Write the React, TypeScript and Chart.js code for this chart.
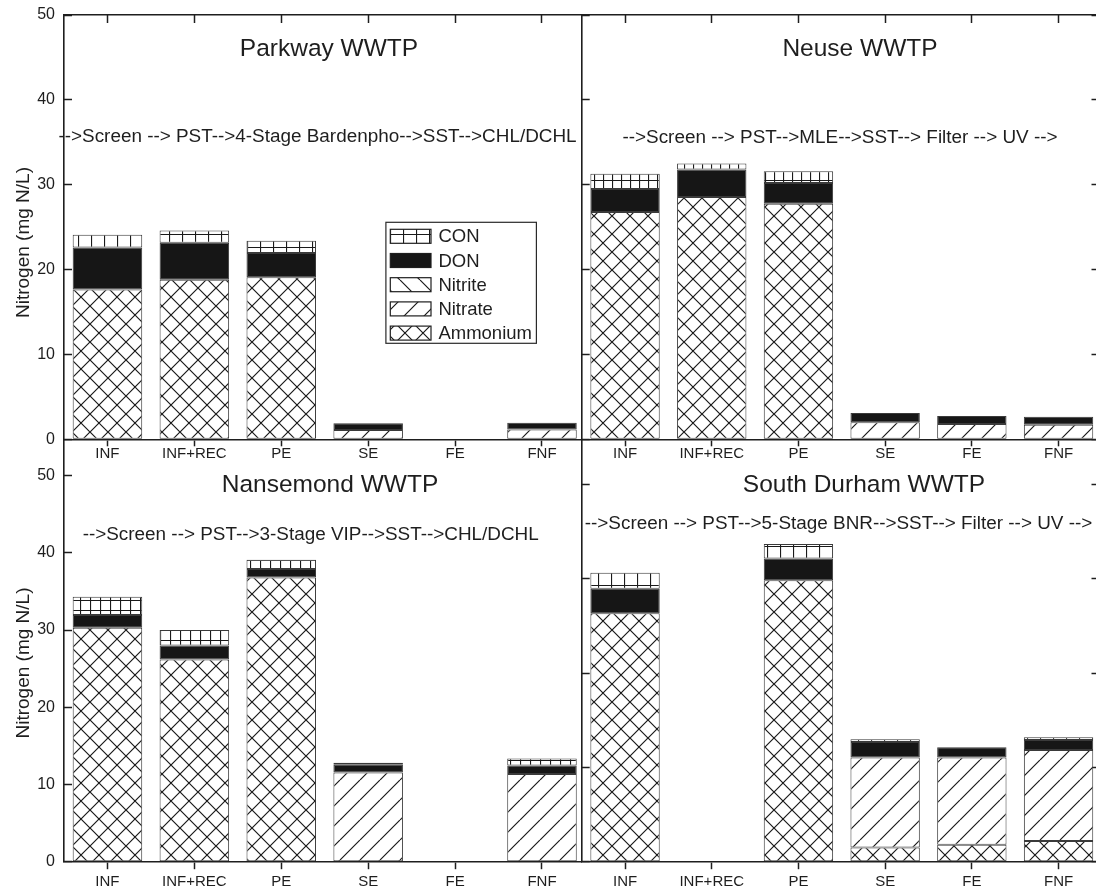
import React, { useEffect, useRef } from "react";
import { Chart, registerables } from "chart.js";

Chart.register(...registerables);

// ---------------- data ----------------
const categories = ["INF", "INF+REC", "PE", "SE", "FE", "FNF"];
const categoryPositions = [1, 2, 3, 4, 5, 6];
const legendOrder = ["CON", "DON", "Nitrite", "Nitrate", "Ammonium"];

const yTicks50 = [0, 10, 20, 30, 40, 50];
const yTicks40 = [0, 10, 20, 30, 40];

// Parkway WWTP
const parkwayAmmonium = [17.65, 18.8, 19.1, 0, 0, 0];
const parkwayNitrate = [0, 0, 0, 1.1, 0, 1.15];
const parkwayNitrite = [0, 0, 0, 0, 0, 0];
const parkwayDON = [4.95, 4.35, 2.85, 0.8, 0, 0.8];
const parkwayCON = [1.5, 1.45, 1.45, 0, 0, 0];

// Neuse WWTP
const neuseAmmonium = [26.8, 28.55, 27.75, 0, 0, 0];
const neuseNitrate = [0, 0, 0, 2.0, 1.8, 1.7];
const neuseNitrite = [0, 0, 0, 0, 0, 0];
const neuseDON = [2.7, 3.25, 2.45, 1.1, 0.95, 0.95];
const neuseCON = [1.8, 0.7, 1.4, 0, 0, 0];

// Nansemond WWTP
const nansemondAmmonium = [30.3, 26.2, 36.8, 0, 0, 0];
const nansemondNitrate = [0, 0, 0, 11.55, 0, 11.35];
const nansemondNitrite = [0, 0, 0, 0, 0, 0];
const nansemondDON = [1.65, 1.8, 1.1, 1.0, 0, 1.1];
const nansemondCON = [2.35, 2.0, 1.2, 0.25, 0, 0.9];

// South Durham WWTP
const durhamAmmonium = [26.35, 0, 29.85, 1.5, 1.8, 2.2];
const durhamNitrate = [0, 0, 0, 9.55, 9.25, 9.65];
const durhamNitrite = [0, 0, 0, 0, 0, 0];
const durhamDON = [2.6, 0, 2.3, 1.65, 1.1, 1.05];
const durhamCON = [1.7, 0, 1.55, 0.3, 0, 0.3];

// ---------------- style ----------------
const W = 1096;
const H = 891;
const INK = "#1e1e1e";
const FONT = "'Liberation Sans', Arial, Helvetica, sans-serif";
const X_AXIS_H = 29;

function makePattern(kind: string, size: number): any {
  const c = document.createElement("canvas");
  c.width = size;
  c.height = size;
  const g = c.getContext("2d") as CanvasRenderingContext2D;
  g.fillStyle = "#ffffff";
  g.fillRect(0, 0, size, size);
  g.strokeStyle = "#1a1a1a";
  g.lineWidth = 1.2;
  g.beginPath();
  if (kind === "slash" || kind === "cross") {
    for (let k = -1; k <= 1; k++) {
      g.moveTo(k * size, size);
      g.lineTo(k * size + size, 0);
    }
  }
  if (kind === "back" || kind === "cross") {
    for (let k = -1; k <= 1; k++) {
      g.moveTo(k * size, 0);
      g.lineTo(k * size + size, size);
    }
  }
  if (kind === "grid") {
    g.moveTo(0.5, 0);
    g.lineTo(0.5, size);
    g.moveTo(0, 0.5);
    g.lineTo(size, 0.5);
  }
  g.stroke();
  return g.createPattern(c, "repeat");
}

function makeFills(conSize: number) {
  return {
    Ammonium: makePattern("cross", 18),
    Nitrate: makePattern("slash", 20),
    Nitrite: makePattern("back", 20),
    DON: "#161616",
    CON: makePattern("grid", conSize),
  } as Record<string, any>;
}

type Spec = {
  title: string;
  titleX: number;
  titleY: number;
  subtitle: string;
  subX: number;
  subY: number;
  yTitle: null | { x: number; y: number };
  area: { left: number; top: number; right: number; bottom: number };
  xMax: number;
  yMax: number;
  yTicks: number[];
  showYLabels: boolean;
  topAxis: boolean;
  rightAxis: boolean;
  xTickLen: number;
  xTickPad: number;
  conSize: number;
  legend: boolean;
  series: Record<string, number[]>;
};

const specs: Spec[] = [
  {
    title: "Parkway WWTP",
    titleX: 329,
    titleY: 55.5,
    subtitle: "-->Screen --> PST-->4-Stage Bardenpho-->SST-->CHL/DCHL",
    subX: 317.5,
    subY: 142,
    yTitle: { x: 28.5, y: 242.5 },
    area: { left: 64, top: 15, right: 581.7, bottom: 439.3 },
    xMax: 6.457,
    yMax: 50,
    yTicks: yTicks50,
    showYLabels: true,
    topAxis: true,
    rightAxis: false,
    xTickLen: 7,
    xTickPad: -1,
    conSize: 13,
    legend: true,
    series: {
      Ammonium: parkwayAmmonium,
      Nitrate: parkwayNitrate,
      Nitrite: parkwayNitrite,
      DON: parkwayDON,
      CON: parkwayCON,
    },
  },
  {
    title: "Neuse WWTP",
    titleX: 860,
    titleY: 56,
    subtitle: "-->Screen --> PST-->MLE-->SST--> Filter --> UV -->",
    subX: 840,
    subY: 143,
    yTitle: null,
    area: { left: 581.7, top: 15, right: 1096, bottom: 439.3 },
    xMax: 6.432,
    yMax: 50,
    yTicks: yTicks50,
    showYLabels: false,
    topAxis: true,
    rightAxis: true,
    xTickLen: 7,
    xTickPad: -1,
    conSize: 9,
    legend: false,
    series: {
      Ammonium: neuseAmmonium,
      Nitrate: neuseNitrate,
      Nitrite: neuseNitrite,
      DON: neuseDON,
      CON: neuseCON,
    },
  },
  {
    title: "Nansemond WWTP",
    titleX: 330,
    titleY: 492,
    subtitle: "-->Screen --> PST-->3-Stage VIP-->SST-->CHL/DCHL",
    subX: 310.7,
    subY: 540,
    yTitle: { x: 28.5, y: 663 },
    area: { left: 64, top: 439.3, right: 581.7, bottom: 861.7 },
    xMax: 6.457,
    yMax: 54.7,
    yTicks: yTicks50,
    showYLabels: true,
    topAxis: false,
    rightAxis: false,
    xTickLen: 7.5,
    xTickPad: 3.5,
    conSize: 10,
    legend: false,
    series: {
      Ammonium: nansemondAmmonium,
      Nitrate: nansemondNitrate,
      Nitrite: nansemondNitrite,
      DON: nansemondDON,
      CON: nansemondCON,
    },
  },
  {
    title: "South Durham WWTP",
    titleX: 864,
    titleY: 491.5,
    subtitle: "-->Screen --> PST-->5-Stage BNR-->SST--> Filter --> UV -->",
    subX: 838.5,
    subY: 529,
    yTitle: null,
    area: { left: 581.7, top: 439.3, right: 1096, bottom: 861.7 },
    xMax: 6.432,
    yMax: 44.8,
    yTicks: yTicks40,
    showYLabels: false,
    topAxis: false,
    rightAxis: true,
    xTickLen: 7.5,
    xTickPad: 3.5,
    conSize: 13,
    legend: false,
    series: {
      Ammonium: durhamAmmonium,
      Nitrate: durhamNitrate,
      Nitrite: durhamNitrite,
      DON: durhamDON,
      CON: durhamCON,
    },
  },
];

const stackOrder = ["Ammonium", "Nitrate", "Nitrite", "DON", "CON"];

function buildConfig(spec: Spec): any {
  const fills = makeFills(spec.conSize);
  const yAxisW = spec.showYLabels ? 60 : 0;
  const xTicksFn = (s: any) => {
    s.ticks = categoryPositions.map((v) => ({ value: v }));
  };
  const yTicksFn = (s: any) => {
    s.ticks = spec.yTicks.map((v) => ({ value: v }));
  };
  const fitH = (h: number) => (s: any) => {
    s.height = h;
    s.paddingLeft = 0;
    s.paddingRight = 0;
    s.paddingTop = 0;
    s.paddingBottom = 0;
  };
  const fitW = (w: number) => (s: any) => {
    s.width = w;
    s.paddingLeft = 0;
    s.paddingRight = 0;
    s.paddingTop = 0;
    s.paddingBottom = 0;
  };

  const datasets = stackOrder.map((name) => ({
    label: name,
    data: categoryPositions.map((x, i) => ({
      x,
      y: spec.series[name][i] > 0 ? spec.series[name][i] : null,
    })),
    backgroundColor: fills[name],
    borderColor: "#3a3a3a",
    borderWidth: 1,
    borderSkipped: false,
    barPercentage: 0.8,
    categoryPercentage: 1,
  }));

  const scales: any = {
    x: {
      type: "linear",
      position: "bottom",
      offset: false,
      min: 0.5,
      max: spec.xMax,
      stacked: true,
      afterBuildTicks: xTicksFn,
      afterFit: fitH(X_AXIS_H),
      grid: {
        offset: false,
        drawOnChartArea: false,
        drawTicks: true,
        tickLength: spec.xTickLen,
        tickColor: INK,
        tickWidth: 1.5,
      },
      border: { display: true, color: INK, width: 1.6 },
      ticks: {
        color: INK,
        font: { family: FONT, size: 15 },
        padding: spec.xTickPad,
        maxRotation: 0,
        autoSkip: false,
        callback: (_v: any, i: number) => categories[i],
      },
    },
    y: {
      type: "linear",
      position: "left",
      min: 0,
      max: spec.yMax,
      stacked: true,
      afterBuildTicks: yTicksFn,
      afterFit: fitW(yAxisW),
      grid: {
        drawOnChartArea: false,
        drawTicks: true,
        tickLength: -8,
        tickColor: INK,
        tickWidth: 1.5,
      },
      border: { display: true, color: INK, width: 1.6 },
      ticks: {
        display: spec.showYLabels,
        color: INK,
        font: { family: FONT, size: 16 },
        padding: 17,
        autoSkip: false,
        callback: (v: any) => String(v),
      },
    },
  };

  if (spec.topAxis) {
    scales.x2 = {
      type: "linear",
      position: "top",
      offset: false,
      min: 0.5,
      max: spec.xMax,
      afterBuildTicks: xTicksFn,
      afterFit: fitH(0),
      grid: {
        offset: false,
        drawOnChartArea: false,
        drawTicks: true,
        tickLength: -8,
        tickColor: INK,
        tickWidth: 1.5,
      },
      border: { display: true, color: INK, width: 1.6 },
      ticks: { display: false },
    };
  }
  if (spec.rightAxis) {
    scales.y2 = {
      type: "linear",
      position: "right",
      min: 0,
      max: spec.yMax,
      afterBuildTicks: yTicksFn,
      afterFit: fitW(0),
      grid: {
        drawOnChartArea: false,
        drawTicks: true,
        tickLength: -4.5,
        tickColor: INK,
        tickWidth: 1.5,
      },
      border: { display: false },
      ticks: { display: false },
    };
  }

  const textPlugin = {
    id: "panelText",
    afterDraw(chart: any) {
      const ctx = chart.ctx as CanvasRenderingContext2D;
      ctx.save();
      ctx.fillStyle = INK;
      ctx.textAlign = "center";
      ctx.textBaseline = "alphabetic";
      ctx.font = `24.5px ${FONT}`;
      ctx.fillText(spec.title, spec.titleX, spec.titleY);
      ctx.font = `18.9px ${FONT}`;
      ctx.fillText(spec.subtitle, spec.subX, spec.subY);
      if (spec.yTitle) {
        ctx.save();
        ctx.translate(spec.yTitle.x, spec.yTitle.y);
        ctx.rotate(-Math.PI / 2);
        ctx.font = `19px ${FONT}`;
        ctx.fillText("Nitrogen (mg N/L)", 0, 0);
        ctx.restore();
      }
      if (spec.legend) {
        const bx = 385.9;
        const by = 222.3;
        const bw = 150.5;
        const bh = 121;
        ctx.fillStyle = "#ffffff";
        ctx.fillRect(bx, by, bw, bh);
        ctx.strokeStyle = "#2a2a2a";
        ctx.lineWidth = 1.2;
        ctx.strokeRect(bx, by, bw, bh);
        ctx.font = `18.5px ${FONT}`;
        ctx.textAlign = "left";
        ctx.textBaseline = "middle";
        legendOrder.forEach((name, i) => {
          const cy = 236.3 + i * 24.2;
          ctx.fillStyle = fills[name];
          ctx.fillRect(390.3, cy - 7, 40.7, 14);
          ctx.strokeStyle = "#1e1e1e";
          ctx.lineWidth = 1.2;
          ctx.strokeRect(390.3, cy - 7, 40.7, 14);
          ctx.fillStyle = INK;
          ctx.fillText(name, 438.4, cy + 1);
        });
      }
      ctx.restore();
    },
  };

  return {
    type: "bar",
    data: { datasets },
    options: {
      responsive: false,
      animation: false,
      devicePixelRatio: 1,
      events: [],
      layout: {
        padding: {
          left: spec.area.left - yAxisW,
          top: spec.area.top,
          right: W - spec.area.right,
          bottom: Math.max(0, H - spec.area.bottom - X_AXIS_H),
        },
      },
      plugins: {
        legend: { display: false },
        tooltip: { enabled: false },
        title: { display: false },
      },
      scales,
    },
    plugins: [textPlugin],
  };
}

function Panel({ spec }: { spec: Spec }) {
  const ref = useRef<HTMLCanvasElement>(null);
  useEffect(() => {
    const chart = new Chart(ref.current as HTMLCanvasElement, buildConfig(spec));
    return () => chart.destroy();
  }, [spec]);
  return (
    <canvas
      ref={ref}
      width={W}
      height={H}
      style={{ position: "absolute", left: 0, top: 0, width: W, height: H }}
    />
  );
}

export default function App() {
  return (
    <div
      style={{
        position: "absolute",
        left: 0,
        top: 0,
        width: W,
        height: H,
        background: "#ffffff",
        overflow: "hidden",
      }}
    >
      {specs.map((s, i) => (
        <Panel key={i} spec={s} />
      ))}
    </div>
  );
}
